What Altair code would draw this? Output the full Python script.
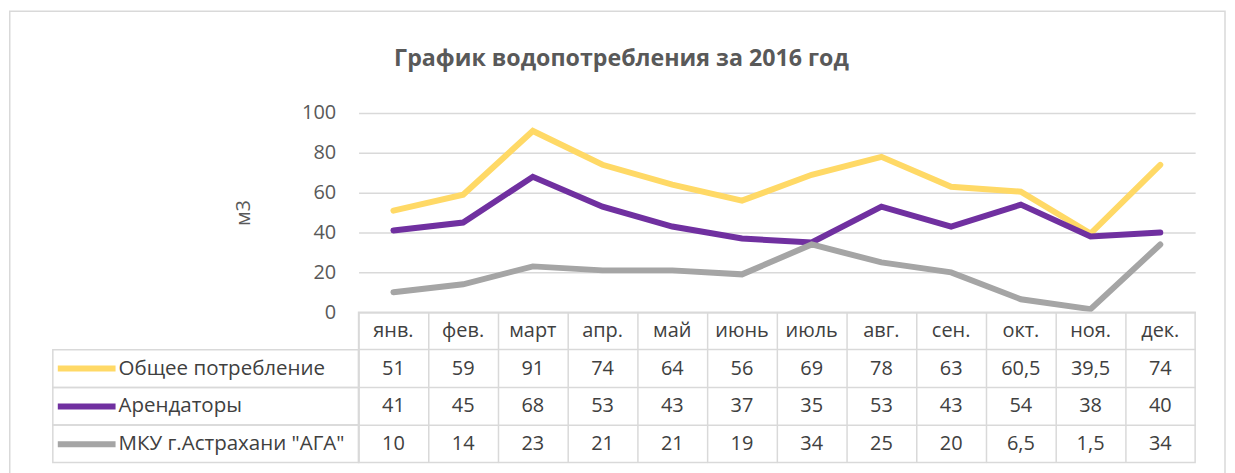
import altair as alt
import pandas as pd

months = ["янв.", "фев.", "март", "апр.", "май", "июнь", "июль", "авг.", "сен.", "окт.", "ноя.", "дек."]
series_names = ["Общее потребление", "Арендаторы", "МКУ г.Астрахани \"АГА\""]
total = [51, 59, 91, 74, 64, 56, 69, 78, 63, 60.5, 39.5, 74]
tenants = [41, 45, 68, 53, 43, 37, 35, 53, 43, 54, 38, 40]
mku = [10, 14, 23, 21, 21, 19, 34, 25, 20, 6.5, 1.5, 34]
colors = ["#FFD966", "#7030A0", "#A5A5A5"]
y_ticks = [0, 20, 40, 60, 80, 100]

FONT = "Open Sans"
GRID = "#D9D9D9"
FS = 20


def fmt(v):
    s = str(int(v)) if float(v).is_integer() else str(v)
    return s.replace(".", ",")


values = [total, tenants, mku]
line_rows = []
for i, (name, vals) in enumerate(zip(series_names, values)):
    for m, v in zip(months, vals):
        line_rows.append({"month": m, "series": name, "value": v, "idx": i})
line_df = pd.DataFrame(line_rows)

row_order = ["header"] + series_names
table_rows = []
for m in months:
    table_rows.append({"month": m, "row": "header", "txt": m})
for name, vals in zip(series_names, values):
    for m, v in zip(months, vals):
        table_rows.append({"month": m, "row": name, "txt": fmt(v)})
table_df = pd.DataFrame(table_rows)
left_df = pd.DataFrame({"row": series_names})

# ---------- top: line chart ----------
lines = alt.Chart(line_df).mark_line(strokeWidth=6, strokeCap="round").encode(
    x=alt.X("month:N", sort=months, axis=None,
            scale=alt.Scale(type="point", padding=0.5)),
    y=alt.Y("value:Q",
            scale=alt.Scale(domain=[0, 100], nice=False),
            axis=alt.Axis(values=y_ticks, title="м3", grid=True, gridColor=GRID,
                          gridWidth=1.5, ticks=False, domain=False,
                          labelFont=FONT, labelFontSize=FS, labelColor="#595959",
                          labelPadding=23, titleFont=FONT, titleFontSize=FS,
                          titleFontWeight="normal", titleColor="#595959",
                          titlePadding=48)),
    color=alt.Color("series:N", sort=series_names,
                    scale=alt.Scale(domain=series_names, range=colors),
                    legend=alt.Legend(orient="none", legendX=-305, legendY=237.75,
                                      title=None, symbolType="stroke",
                                      symbolSize=3364, symbolStrokeWidth=6,
                                      clipHeight=37.75, rowPadding=0, padding=0,
                                      labelFont=FONT, labelFontSize=20.6,
                                      labelColor="#404040", labelOffset=0,
                                      labelLimit=400)),
    detail="idx:O",
)

top = lines.properties(
    width=840, height=200, view=alt.ViewBackground(strokeOpacity=0),
    title=alt.TitleParams("График водопотребления за 2016 год", font=FONT,
                          fontSize=23.3, fontWeight="bold", color="#595959",
                          anchor="middle", frame="group", baseline="alphabetic",
                          dx=-156, offset=14),
)

# ---------- bottom: data table ----------
xb = alt.X("month:N", sort=months,
           scale=alt.Scale(type="band", paddingInner=0, paddingOuter=0),
           axis=alt.Axis(grid=True, gridColor=GRID, gridWidth=1.5, bandPosition=0,
                         labels=False, ticks=False, domain=False, title=None))
yb = alt.Y("row:N", sort=row_order,
           scale=alt.Scale(type="band", domain=row_order, paddingInner=0, paddingOuter=0),
           axis=alt.Axis(grid=True, gridColor=GRID, gridWidth=1.5, bandPosition=0,
                         labels=False, ticks=False, domain=False, title=None))

# outer chart frame (decorative border of the whole figure)
frame = alt.Chart(alt.Data(values=[{"a": 1}])).mark_rect(
    fill="white", fillOpacity=0, stroke=GRID, strokeWidth=1.5
).encode(
    x=alt.value(-350.25), x2=alt.value(870), y=alt.value(-302.25), y2=alt.value(400)
)

left_cells = alt.Chart(left_df).mark_rect(
    fill="white", fillOpacity=0, stroke=GRID, strokeWidth=1.5
).encode(
    x=alt.value(-307), x2=alt.value(0),
    y=yb
)

cells = alt.Chart(table_df).mark_text(
    font=FONT, fontSize=FS, color="#404040", align="center", baseline="middle"
).encode(x=xb, y=yb, text="txt:N")

table = alt.layer(frame, left_cells, cells).properties(width=840, height=151)

chart = alt.vconcat(top, table, spacing=0, bounds="flush").resolve_scale(
    color="independent"
).properties(
    padding=0,
).configure_view(stroke=GRID, strokeWidth=1.5)

chart.save("out.html", embed_options={"renderer": "svg", "actions": False})
